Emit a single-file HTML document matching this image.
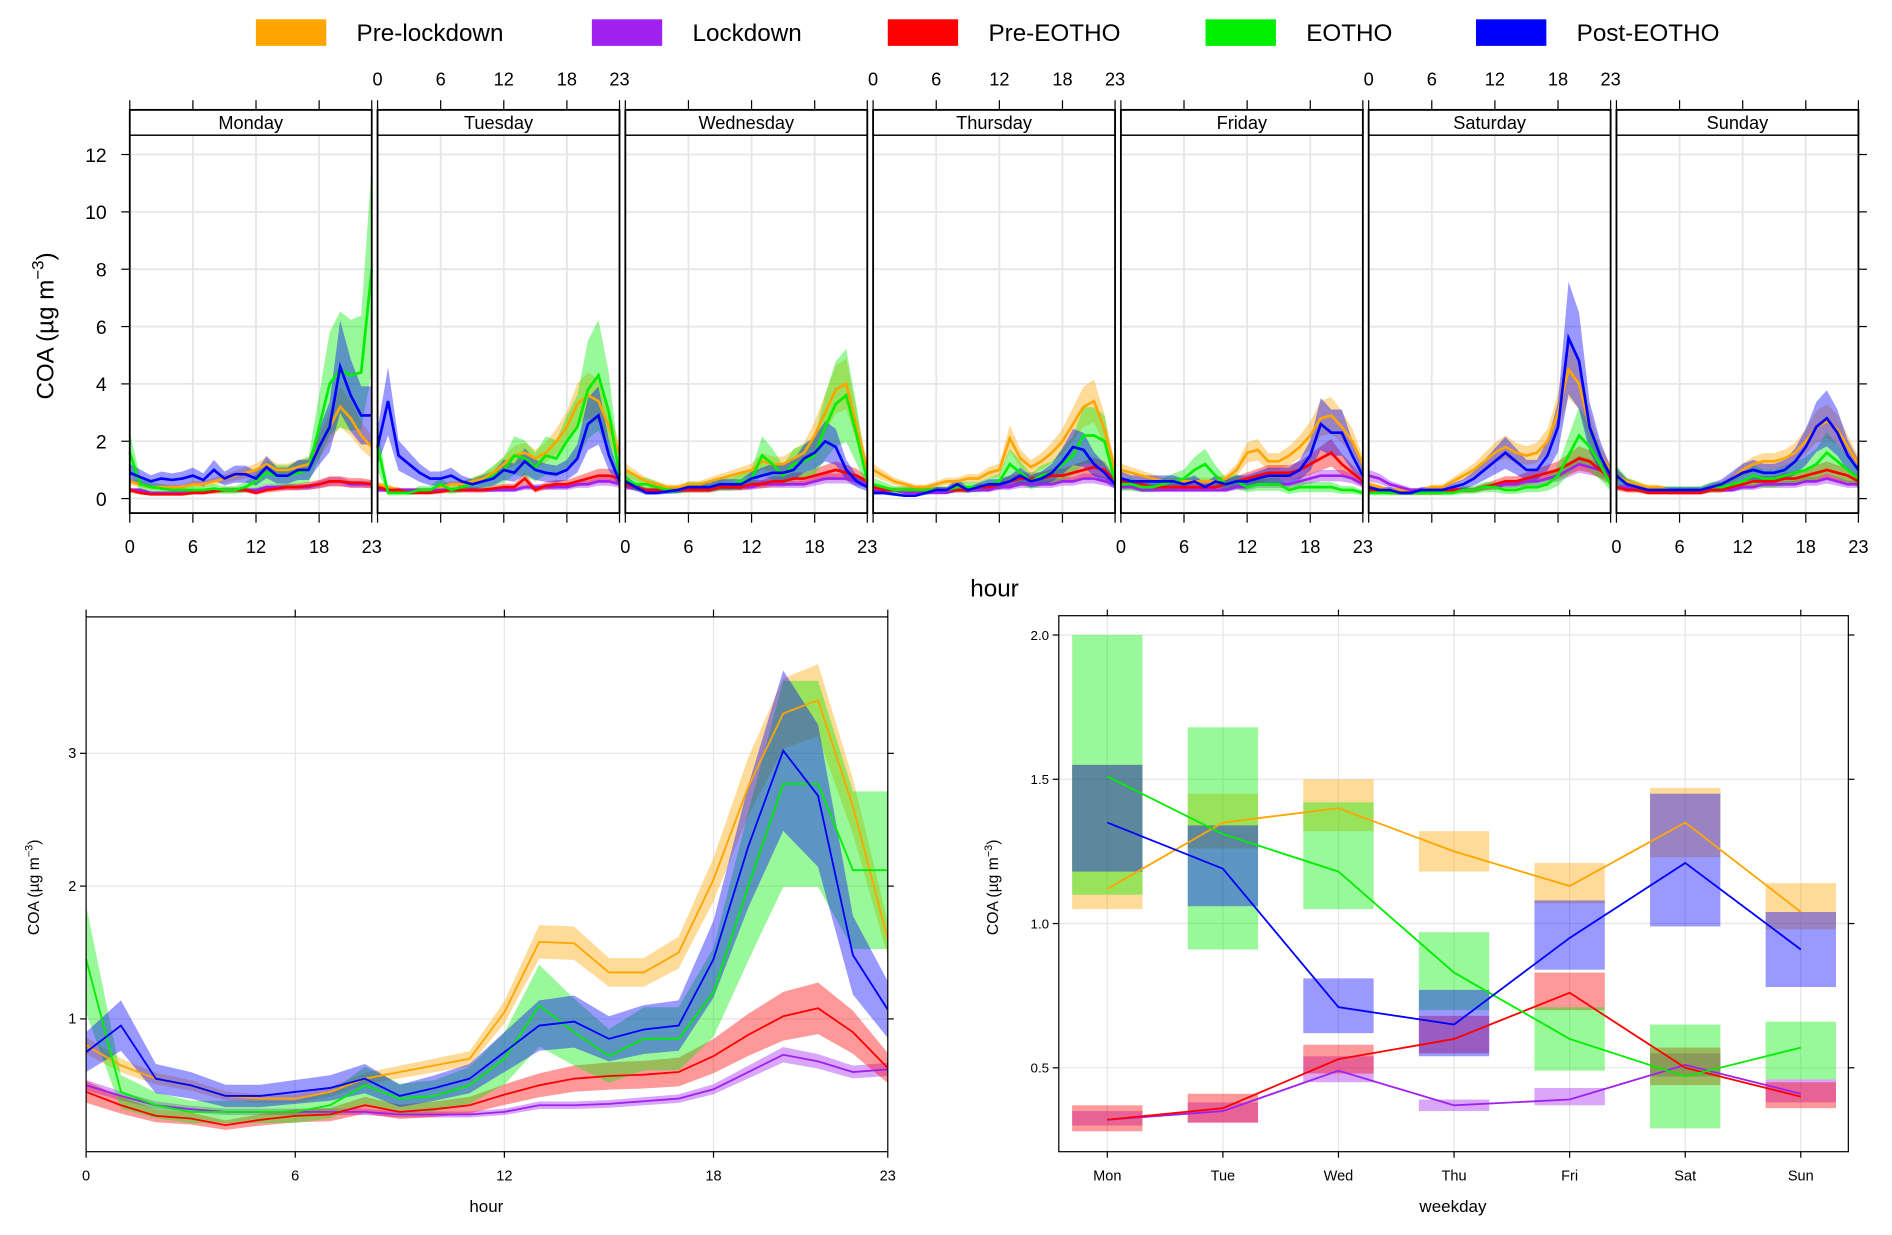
<!DOCTYPE html>
<html><head><meta charset="utf-8"><style>
html,body{margin:0;padding:0;background:#fff;width:1892px;height:1235px;overflow:hidden}
svg{display:block}
text{font-family:"Liberation Sans",sans-serif;fill:#000}
</style></head><body>
<svg id="chart" width="1892" height="1235" viewBox="0 0 1560 1023" preserveAspectRatio="none" xmlns="http://www.w3.org/2000/svg"></svg>
<script>
// ---- data ----
const seriesNames = ["Pre-lockdown","Lockdown","Pre-EOTHO","EOTHO","Post-EOTHO"];
const seriesColors = ["#FFA500","#A020F0","#FF0000","#00EE00","#0000FF"];
const dayNames = ["Monday","Tuesday","Wednesday","Thursday","Friday","Saturday","Sunday"];
const dayShort = ["Mon","Tue","Wed","Thu","Fri","Sat","Sun"];
const topTicksY = [0,2,4,6,8,10,12];
const hourTicks = [0,6,12,18,23];
// top panel: [day][series] 24 hourly means
const preMon=[0.6,0.5,0.4,0.4,0.4,0.4,0.5,0.5,0.6,0.7,0.8,0.9,1.0,1.2,1.0,1.0,1.1,1.2,1.8,2.5,3.2,2.8,2.2,1.8];
const lockMon=[0.3,0.3,0.2,0.2,0.2,0.2,0.2,0.2,0.3,0.3,0.3,0.3,0.3,0.4,0.4,0.4,0.4,0.4,0.5,0.6,0.6,0.5,0.5,0.5];
const preEMon=[0.3,0.2,0.15,0.15,0.15,0.15,0.2,0.2,0.25,0.3,0.3,0.3,0.2,0.3,0.35,0.4,0.4,0.45,0.5,0.6,0.6,0.55,0.55,0.5];
const eothoMon=[1.6,0.5,0.4,0.35,0.3,0.3,0.3,0.3,0.35,0.3,0.3,0.4,0.6,0.9,0.8,0.8,0.9,1.0,2.5,4.0,4.5,4.3,4.4,8.0];
const postMon=[0.9,0.75,0.6,0.7,0.65,0.7,0.8,0.65,1.0,0.7,0.85,0.85,0.7,1.1,0.8,0.8,1.0,1.0,1.8,2.5,4.6,3.6,2.9,2.9];
const preTue=[0.5,0.4,0.3,0.3,0.3,0.3,0.4,0.5,0.5,0.6,0.7,0.9,1.2,1.5,1.6,1.4,1.6,2.0,2.5,3.3,3.6,3.4,2.5,1.6];
const lockTue=[0.3,0.3,0.3,0.3,0.3,0.3,0.3,0.3,0.3,0.3,0.3,0.3,0.3,0.3,0.4,0.4,0.4,0.4,0.4,0.5,0.5,0.6,0.6,0.5];
const preETue=[0.4,0.3,0.3,0.2,0.2,0.2,0.25,0.3,0.3,0.3,0.3,0.35,0.4,0.4,0.7,0.3,0.45,0.5,0.5,0.6,0.7,0.8,0.8,0.7];
const eothoTue=[1.8,0.2,0.2,0.2,0.3,0.3,0.5,0.3,0.4,0.5,0.6,0.8,1.0,1.5,1.4,1.1,1.5,1.4,2.0,2.5,3.8,4.3,3.0,0.8];
const postTue=[1.8,3.4,1.5,1.2,0.9,0.7,0.7,0.8,0.6,0.5,0.6,0.7,1.0,0.9,1.3,1.0,0.9,0.85,1.0,1.4,2.6,2.9,1.5,0.6];
const preWed=[1.0,0.8,0.6,0.5,0.4,0.4,0.5,0.5,0.6,0.7,0.8,0.9,1.0,1.3,1.2,1.2,1.4,1.6,2.2,3.0,3.8,4.0,2.5,1.0];
const lockWed=[0.4,0.4,0.3,0.3,0.3,0.3,0.3,0.3,0.3,0.4,0.4,0.4,0.4,0.5,0.5,0.5,0.5,0.5,0.6,0.7,0.7,0.7,0.6,0.5];
const preEWed=[0.5,0.4,0.3,0.3,0.3,0.3,0.3,0.3,0.3,0.4,0.4,0.4,0.5,0.5,0.6,0.6,0.7,0.7,0.8,0.9,1.0,0.9,0.8,0.6];
const eothoWed=[0.7,0.5,0.5,0.4,0.3,0.3,0.4,0.4,0.4,0.5,0.5,0.6,0.7,1.5,1.2,0.8,1.2,1.3,1.5,2.5,3.3,3.6,2.2,0.6];
const postWed=[0.6,0.4,0.2,0.2,0.25,0.3,0.4,0.4,0.4,0.5,0.5,0.5,0.7,0.8,0.9,0.9,1.0,1.4,1.6,2.0,1.8,1.0,0.6,0.4];
const preThu=[1.0,0.8,0.6,0.5,0.4,0.4,0.5,0.6,0.6,0.7,0.7,0.9,1.0,2.1,1.4,1.1,1.3,1.6,2.0,2.6,3.2,3.4,2.4,1.0];
const lockThu=[0.3,0.3,0.3,0.2,0.2,0.2,0.2,0.2,0.3,0.3,0.3,0.3,0.4,0.4,0.5,0.5,0.5,0.5,0.6,0.6,0.7,0.7,0.6,0.5];
const preEThu=[0.4,0.3,0.3,0.3,0.3,0.3,0.3,0.3,0.3,0.3,0.4,0.4,0.5,0.6,0.7,0.7,0.7,0.8,0.8,0.9,1.0,1.1,1.0,0.6];
const eothoThu=[0.5,0.4,0.3,0.3,0.3,0.3,0.3,0.3,0.4,0.4,0.4,0.5,0.6,1.2,0.9,0.6,0.8,0.9,1.2,1.5,2.2,2.2,2.0,0.6];
const postThu=[0.2,0.2,0.15,0.1,0.1,0.2,0.3,0.3,0.5,0.3,0.4,0.5,0.5,0.6,0.8,0.6,0.7,0.9,1.3,1.8,1.7,1.2,0.9,0.5];
const preFri=[1.0,0.9,0.8,0.7,0.6,0.6,0.6,0.6,0.6,0.6,0.7,1.0,1.6,1.7,1.3,1.3,1.5,1.8,2.2,2.8,2.9,2.5,2.0,1.2];
const lockFri=[0.4,0.4,0.3,0.3,0.3,0.3,0.3,0.3,0.3,0.3,0.3,0.4,0.4,0.5,0.5,0.5,0.5,0.6,0.7,0.8,0.8,0.8,0.7,0.5];
const preEFri=[0.6,0.5,0.5,0.4,0.4,0.4,0.4,0.4,0.4,0.4,0.5,0.6,0.7,0.8,0.9,0.9,0.9,1.0,1.2,1.4,1.6,1.2,0.9,0.6];
const eothoFri=[0.5,0.5,0.4,0.4,0.5,0.6,0.7,1.0,1.2,0.8,0.5,0.6,0.4,0.5,0.5,0.5,0.3,0.4,0.4,0.4,0.4,0.3,0.3,0.2];
const postFri=[0.7,0.6,0.6,0.6,0.6,0.6,0.5,0.6,0.4,0.6,0.5,0.6,0.6,0.7,0.8,0.8,0.8,1.0,1.5,2.6,2.3,2.3,1.5,0.8];
const preSat=[0.5,0.4,0.3,0.3,0.3,0.3,0.4,0.4,0.6,0.8,1.0,1.3,1.6,1.8,1.6,1.5,1.6,2.0,3.0,4.5,4.0,2.5,1.5,1.0];
const lockSat=[0.8,0.7,0.5,0.4,0.3,0.3,0.3,0.3,0.3,0.3,0.3,0.4,0.4,0.5,0.5,0.6,0.6,0.7,0.8,1.0,1.2,1.1,1.0,0.8];
const preESat=[0.3,0.3,0.2,0.2,0.2,0.2,0.2,0.2,0.3,0.3,0.3,0.4,0.5,0.6,0.6,0.7,0.8,0.9,1.0,1.2,1.4,1.3,1.0,0.7];
const eothoSat=[0.2,0.2,0.2,0.2,0.2,0.2,0.2,0.2,0.2,0.3,0.3,0.4,0.4,0.3,0.3,0.4,0.4,0.5,0.8,1.5,2.2,1.8,1.2,0.5];
const postSat=[0.4,0.3,0.3,0.2,0.2,0.3,0.3,0.3,0.4,0.5,0.7,1.0,1.3,1.6,1.3,1.0,1.0,1.5,2.5,5.6,4.8,2.5,1.5,0.8];
const preSun=[0.8,0.6,0.5,0.4,0.4,0.3,0.3,0.3,0.3,0.4,0.5,0.7,1.0,1.2,1.3,1.3,1.4,1.6,2.0,2.5,2.7,2.4,1.8,1.2];
const lockSun=[0.4,0.4,0.3,0.3,0.3,0.2,0.2,0.2,0.2,0.3,0.3,0.3,0.4,0.4,0.5,0.5,0.5,0.5,0.6,0.6,0.7,0.6,0.5,0.5];
const preESun=[0.4,0.3,0.3,0.2,0.2,0.2,0.2,0.2,0.2,0.3,0.3,0.4,0.5,0.6,0.6,0.6,0.7,0.7,0.8,0.9,1.0,0.9,0.8,0.6];
const eothoSun=[0.8,0.5,0.4,0.3,0.3,0.3,0.3,0.3,0.3,0.4,0.4,0.5,0.6,0.8,0.7,0.7,0.8,0.9,1.0,1.2,1.6,1.3,1.0,0.7];
const postSun=[0.8,0.5,0.4,0.3,0.3,0.3,0.3,0.3,0.3,0.4,0.5,0.7,0.9,1.0,0.9,0.9,1.0,1.3,1.8,2.5,2.8,2.3,1.5,1.0];
const topBandFrac=[0.22,0.25,0.3,0.45,0.35];
// bottom-left: overall hourly means
const hourPre=[0.80,0.65,0.55,0.50,0.42,0.40,0.40,0.45,0.55,0.60,0.65,0.70,1.05,1.58,1.57,1.35,1.35,1.50,2.05,2.75,3.30,3.40,2.60,1.60];
const hourLock=[0.50,0.42,0.35,0.32,0.30,0.30,0.30,0.30,0.30,0.28,0.28,0.28,0.30,0.35,0.35,0.36,0.38,0.40,0.47,0.60,0.73,0.68,0.60,0.62];
const hourPreE=[0.45,0.35,0.27,0.25,0.20,0.24,0.27,0.28,0.35,0.30,0.32,0.35,0.43,0.50,0.55,0.57,0.58,0.60,0.72,0.88,1.02,1.08,0.90,0.63];
const hourEotho=[1.45,0.45,0.35,0.30,0.30,0.30,0.30,0.35,0.50,0.40,0.42,0.50,0.70,1.10,0.90,0.72,0.85,0.85,1.20,2.00,2.77,2.77,2.12,2.12];
const hourPost=[0.75,0.95,0.55,0.50,0.42,0.42,0.45,0.48,0.55,0.42,0.48,0.55,0.75,0.95,0.98,0.85,0.92,0.95,1.45,2.30,3.02,2.68,1.48,1.07];
const hourBandFrac=[0.08,0.08,0.18,0.28,0.2];
const blTicksY=[1,2,3];
const blTicksX=[0,6,12,18,23];
// bottom-right: weekday means and CI
const wdMean=[[1.12,1.35,1.40,1.25,1.13,1.35,1.04],[0.32,0.35,0.49,0.37,0.39,0.51,0.41],[0.32,0.36,0.53,0.60,0.76,0.50,0.40],[1.51,1.31,1.18,0.83,0.60,0.47,0.57],[1.35,1.19,0.71,0.65,0.95,1.21,0.91]];
const wdLo=[[1.05,1.26,1.32,1.18,1.07,1.23,0.98],[0.30,0.31,0.45,0.35,0.37,0.47,0.38],[0.28,0.31,0.48,0.55,0.70,0.44,0.36],[1.10,0.91,1.05,0.70,0.49,0.29,0.46],[1.18,1.06,0.62,0.54,0.84,0.99,0.78]];
const wdHi=[[1.55,1.45,1.50,1.32,1.21,1.47,1.14],[0.35,0.38,0.54,0.39,0.43,0.55,0.46],[0.37,0.41,0.58,0.68,0.83,0.57,0.45],[2.00,1.68,1.42,0.97,0.71,0.65,0.66],[1.55,1.34,0.81,0.77,1.08,1.45,1.04]];
const brTicksY=[0.5,1.0,1.5,2.0];

const topData=[[preMon,lockMon,preEMon,eothoMon,postMon],[preTue,lockTue,preETue,eothoTue,postTue],[preWed,lockWed,preEWed,eothoWed,postWed],[preThu,lockThu,preEThu,eothoThu,postThu],[preFri,lockFri,preEFri,eothoFri,postFri],[preSat,lockSat,preESat,eothoSat,postSat],[preSun,lockSun,preESun,eothoSun,postSun]];
const hourData=[hourPre,hourLock,hourPreE,hourEotho,hourPost];

const NS="http://www.w3.org/2000/svg";
const svg=document.getElementById('chart');
function el(tag,attrs,parent,txt){const e=document.createElementNS(NS,tag);for(const k in attrs)e.setAttribute(k,attrs[k]);if(txt!==undefined)e.textContent=txt;(parent||svg).appendChild(e);return e;}

// legend
const lx=[211,488,732,994,1217];
seriesNames.forEach((n,i)=>{
  const g=el('g',{});
  
  
  el('rect',{x:lx[i],y:16,width:58,height:22,fill:seriesColors[i]},g);
  el('text',{x:lx[i]+83,y:34,'font-size':20},g,n);
});

// top panels
const tY0=413, tUnit=23.75, tTop=112, tBot=425, stripTop=91;
const ty=v=>tY0-v*tUnit;
const topG=el('g',{});


const panelStep=204.3, panelW=199.5;
dayNames.forEach((d,di)=>{
  const x0=107+di*panelStep, w=panelW;
  const tx=h=>x0+h*w/23;
  const g=el('g',{},topG);
  
  
  topTicksY.forEach(v=>el('line',{x1:x0,x2:x0+w,y1:ty(v),y2:ty(v),stroke:'#e6e6e6','stroke-width':1.5},g));
  [6,12,18].forEach(h=>el('line',{x1:tx(h),x2:tx(h),y1:tTop,y2:tBot,stroke:'#e6e6e6','stroke-width':1.5},g));
  topData[di].forEach((arr,si)=>{
    const f=topBandFrac[si];
    let up=arr.map((v,h)=>tx(h)+','+ty(v*(1+f)));
    let lo=arr.map((v,h)=>tx(h)+','+ty(Math.max(0,v*(1-f)))).reverse();
    const b=el('polygon',{points:up.concat(lo).join(' '),fill:seriesColors[si],'fill-opacity':0.4},g);
    
    
  });
  topData[di].forEach((arr,si)=>{
    const l=el('polyline',{points:arr.map((v,h)=>tx(h)+','+ty(v)).join(' '),fill:'none',stroke:seriesColors[si],'stroke-width':2.2},g);
    
    
  });
  el('rect',{x:x0,y:stripTop,width:w,height:tTop-stripTop,fill:'#fff',stroke:'#000','stroke-width':1.2},g);
  el('text',{x:x0+w/2,y:107,'font-size':15,'text-anchor':'middle'},g,d);
  el('rect',{x:x0,y:stripTop,width:w,height:tBot-stripTop,fill:'none',stroke:'#000','stroke-width':1.5},g);
  hourTicks.forEach(h=>{
    el('line',{x1:tx(h),x2:tx(h),y1:stripTop-8,y2:stripTop,stroke:'#000'},g);
    el('line',{x1:tx(h),x2:tx(h),y1:tBot,y2:tBot+8,stroke:'#000'},g);
    if(di%2===1) el('text',{x:tx(h),y:71,'font-size':15,'text-anchor':'middle'},g,h);
    else el('text',{x:tx(h),y:458,'font-size':15,'text-anchor':'middle'},g,h);
  });
});
const topRight=107+6*panelStep+panelW;
topTicksY.forEach(v=>{
  el('line',{x1:100,x2:107,y1:ty(v),y2:ty(v),stroke:'#000'},topG);
  el('line',{x1:topRight,x2:topRight+7,y1:ty(v),y2:ty(v),stroke:'#000'},topG);
  el('text',{x:88,y:ty(v)+6,'font-size':16,'text-anchor':'end'},topG,v);
});
const yl=el('text',{x:0,y:0,'font-size':20,'text-anchor':'middle',transform:'translate(44,270) rotate(-90)'},topG);


yl.innerHTML='COA (µg m<tspan dy="-8" font-size="14">−3</tspan><tspan dy="8">)</tspan>';
const xh=el('text',{x:820,y:494,'font-size':20,'text-anchor':'middle'},topG,'hour');



// bottom-left
const bl=el('g',{});


const bx0=71,bx1=732,by0=954,bUnit=110,bTop=511;
const bx=h=>bx0+h*(bx1-bx0)/23, byf=v=>by0-v*bUnit;
blTicksY.forEach(v=>el('line',{x1:bx0,x2:bx1,y1:byf(v),y2:byf(v),stroke:'#e6e6e6'},bl));
blTicksX.slice(1,4).forEach(h=>el('line',{x1:bx(h),x2:bx(h),y1:bTop,y2:by0,stroke:'#e6e6e6'},bl));
hourData.forEach((arr,si)=>{
  const f=hourBandFrac[si];
  const up=arr.map((v,h)=>bx(h)+','+byf(v*(1+f)));
  const lo=arr.map((v,h)=>bx(h)+','+byf(v*(1-f))).reverse();
  const b=el('polygon',{points:up.concat(lo).join(' '),fill:seriesColors[si],'fill-opacity':0.4},bl);
  
  
});
hourData.forEach((arr,si)=>{
  const l=el('polyline',{points:arr.map((v,h)=>bx(h)+','+byf(v)).join(' '),fill:'none',stroke:seriesColors[si],'stroke-width':1.5},bl);
  
  
});
el('rect',{x:bx0,y:bTop,width:bx1-bx0,height:by0-bTop,fill:'none',stroke:'#000'},bl);
blTicksY.forEach(v=>{el('line',{x1:bx0-5,x2:bx0,y1:byf(v),y2:byf(v),stroke:'#000'},bl);el('line',{x1:bx1,x2:bx1+5,y1:byf(v),y2:byf(v),stroke:'#000'},bl);el('text',{x:bx0-8,y:byf(v)+4,'font-size':12,'text-anchor':'end'},bl,v);});
blTicksX.forEach(h=>{el('line',{x1:bx(h),x2:bx(h),y1:bTop-6,y2:bTop,stroke:'#000'},bl);el('line',{x1:bx(h),x2:bx(h),y1:by0,y2:by0+5,stroke:'#000'},bl);el('text',{x:bx(h),y:978,'font-size':12,'text-anchor':'middle'},bl,h);});
el('text',{x:401,y:1004,'font-size':14,'text-anchor':'middle'},bl,'hour');
const yl2=el('text',{x:0,y:0,'font-size':13,'text-anchor':'middle',transform:'translate(32,735) rotate(-90)'},bl);
yl2.innerHTML='COA (µg m<tspan dy="-5" font-size="9">−3</tspan><tspan dy="5">)</tspan>';

// bottom-right
const br=el('g',{});


const rx0=873,rx1=1524,rTop=510,rBot=954,rY1=765,rUnit=239;
const rx=i=>913+i*95.3, ryf=v=>rY1-(v-1)*rUnit;
brTicksY.forEach(v=>el('line',{x1:rx0,x2:rx1,y1:ryf(v),y2:ryf(v),stroke:'#e6e6e6'},br));
dayShort.forEach((d,i)=>el('line',{x1:rx(i),x2:rx(i),y1:rTop,y2:rBot,stroke:'#e6e6e6'},br));
wdMean.forEach((arr,si)=>{
  arr.forEach((v,i)=>{
    const r=el('rect',{x:rx(i)-29,y:ryf(wdHi[si][i]),width:58,height:ryf(wdLo[si][i])-ryf(wdHi[si][i]),fill:seriesColors[si],'fill-opacity':0.4},br);
    
    
  });
});
wdMean.forEach((arr,si)=>{
  const l=el('polyline',{points:arr.map((v,i)=>rx(i)+','+ryf(v)).join(' '),fill:'none',stroke:seriesColors[si],'stroke-width':1.5},br);
  
  
});
el('rect',{x:rx0,y:rTop,width:rx1-rx0,height:rBot-rTop,fill:'none',stroke:'#000'},br);
brTicksY.forEach(v=>{el('line',{x1:rx0-5,x2:rx0,y1:ryf(v),y2:ryf(v),stroke:'#000'},br);el('line',{x1:rx1,x2:rx1+5,y1:ryf(v),y2:ryf(v),stroke:'#000'},br);el('text',{x:rx0-8,y:ryf(v)+4,'font-size':11,'text-anchor':'end'},br,v.toFixed(1));});
dayShort.forEach((d,i)=>{el('line',{x1:rx(i),x2:rx(i),y1:rTop-5,y2:rTop,stroke:'#000'},br);el('line',{x1:rx(i),x2:rx(i),y1:rBot,y2:rBot+5,stroke:'#000'},br);el('text',{x:rx(i),y:978,'font-size':12,'text-anchor':'middle'},br,d);});
el('text',{x:1198,y:1004,'font-size':14,'text-anchor':'middle'},br,'weekday');
const yl3=el('text',{x:0,y:0,'font-size':13,'text-anchor':'middle',transform:'translate(823,735) rotate(-90)'},br);
yl3.innerHTML='COA (µg m<tspan dy="-5" font-size="9">−3</tspan><tspan dy="5">)</tspan>';
</script>
</body></html>
